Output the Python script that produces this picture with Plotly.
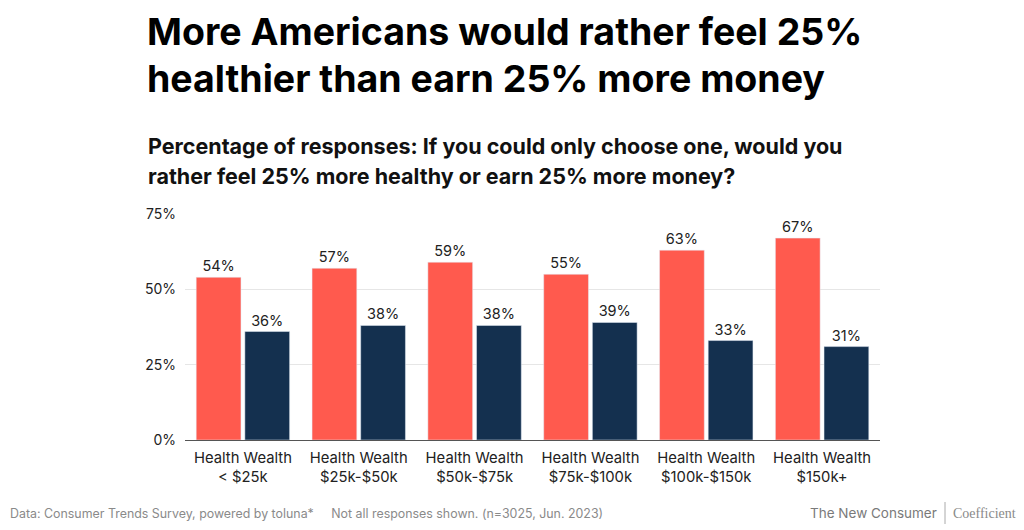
import plotly.graph_objects as go

groups = ["< $25k", "$25k-$50k", "$50k-$75k", "$75k-$100k", "$100k-$150k", "$150k+"]
health = [54, 57, 59, 55, 63, 67]
wealth = [36, 38, 38, 39, 33, 31]
y_ticks = [0, 25, 50, 75]
y_tick_labels = ["0%", "25%", "50%", "75%"]

tick_text = ["Health Wealth<br>" + g for g in groups]
FONT = "Inter, Roboto, sans-serif"

# plot area in pixels
L, R, T, B = 185, 880, 214, 440
W, H = R - L, B - T

def px(X):
    return (X - L) / W

def py(Y):
    return (B - Y) / H

fig = go.Figure()
fig.add_trace(go.Bar(
    x=tick_text, y=health, name="Health", marker_color="#FF5A4E",
    text=[f"{v}%" for v in health], textposition="outside",
    textfont=dict(size=14.5, color="#222", family=FONT), cliponaxis=False,
))
fig.add_trace(go.Bar(
    x=tick_text, y=wealth, name="Wealth", marker_color="#14304F",
    text=[f"{v}%" for v in wealth], textposition="outside",
    textfont=dict(size=14.5, color="#222", family=FONT), cliponaxis=False,
))

fig.update_layout(
    width=1024, height=530,
    margin=dict(l=L, r=1024 - R, t=T, b=530 - B, autoexpand=False),
    paper_bgcolor="white", plot_bgcolor="white",
    barmode="group", bargap=0.16, bargroupgap=0.08,
    showlegend=False,
    font=dict(family=FONT, color="#222"),
    xaxis=dict(showline=True, linecolor="#555", linewidth=1, ticks="",
               automargin=False, tickfont=dict(size=14.8, color="#222"),
               ticklabelstandoff=4),
    yaxis=dict(range=[0, 75], tickvals=y_ticks, ticktext=y_tick_labels,
               showgrid=True, gridcolor="#e6e6e6", zeroline=False, automargin=False,
               tickfont=dict(size=14, color="#222"), ticklabelstandoff=8),
)

def note(text, X, Y, size, color="#000", family=FONT, xanchor="left"):
    fig.add_annotation(
        text=text, xref="paper", yref="paper", x=px(X), y=py(Y),
        xanchor=xanchor, yanchor="middle", align=xanchor, showarrow=False,
        borderpad=0, font=dict(size=size, color=color, family=family),
    )

note("<b>More Americans would rather feel 25%</b>", 146, 31, 37.5)
note("<b>healthier than earn 25% more money</b>", 146, 78, 37.5)
note("<b>Percentage of responses: If you could only choose one, would you</b>", 147, 146, 21.5, "#111")
note("<b>rather feel 25% more healthy or earn 25% more money?</b>", 147, 176, 21.5, "#111")
note("Data: Consumer Trends Survey, powered by toluna*     Not all responses shown. (n=3025, Jun. 2023)",
     9, 513, 12.4, "#8a8a8a")
note("The New Consumer", 938, 513, 13.5, "#7a7a7a", xanchor="right")
note("Coefficient", 952, 513, 14, "#8a8a8a", family="Liberation Serif", xanchor="left")

fig.add_shape(type="line", xref="paper", yref="paper",
              x0=px(945), x1=px(945), y0=py(502), y1=py(524),
              line=dict(color="#aaaaaa", width=1))

fig.write_html("out.html", config={"displayModeBar": False},
               post_script="document.body.style.margin='0';document.body.style.overflow='hidden';")
